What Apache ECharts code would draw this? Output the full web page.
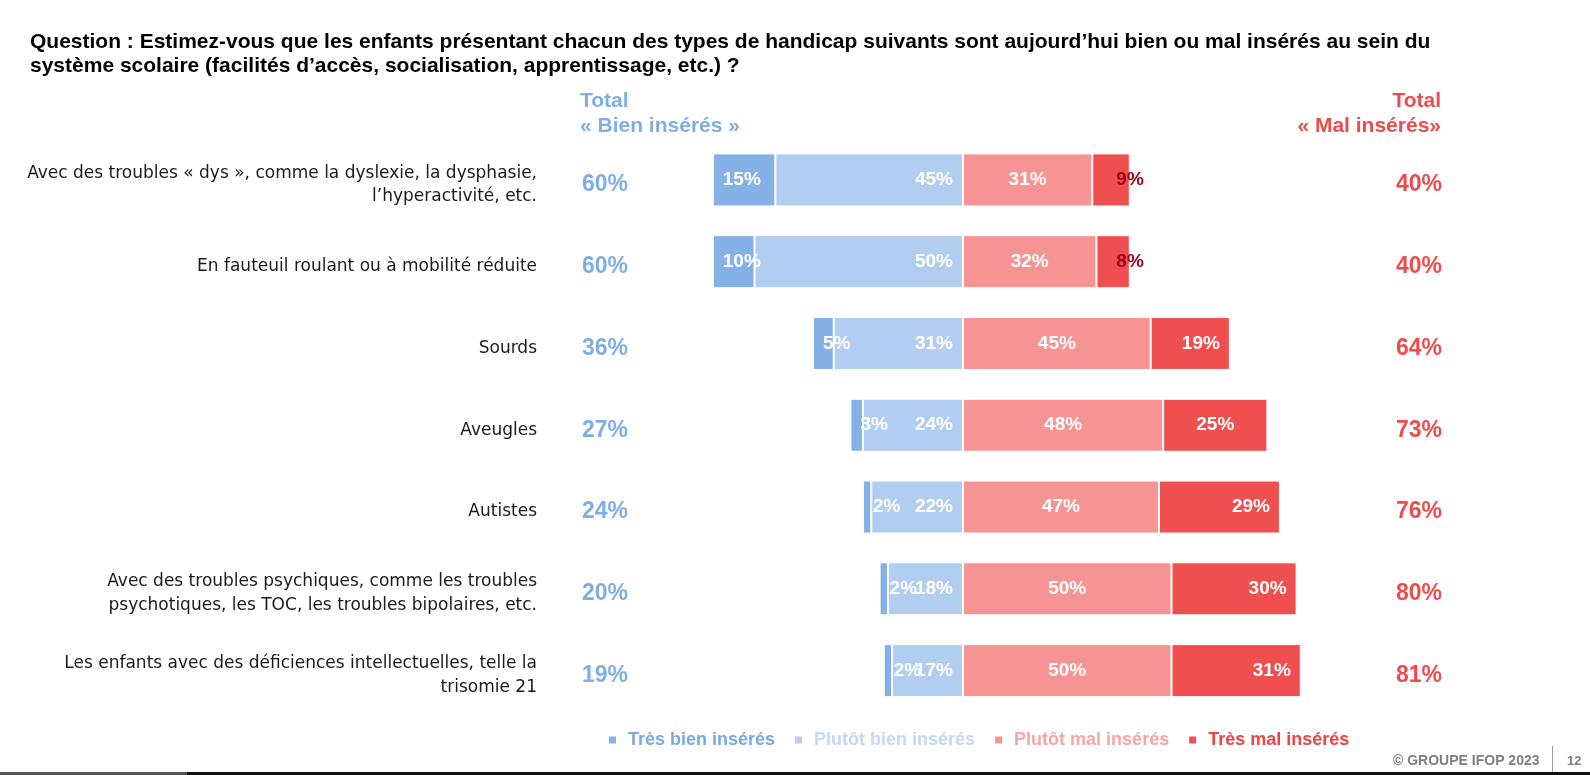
<!DOCTYPE html>
<html><head><meta charset="utf-8">
<script src="https://cdn.jsdelivr.net/npm/echarts@6/dist/echarts.min.js"></script>
<style>html,body{margin:0;padding:0;background:#fff}#c{width:1590px;height:775px}</style>
</head><body><div id="c"></div>
<script>
const categories = [
  "Avec des troubles « dys », comme la dyslexie, la dysphasie,\nl’hyperactivité, etc.",
  "En fauteuil roulant ou à mobilité réduite",
  "Sourds",
  "Aveugles",
  "Autistes",
  "Avec des troubles psychiques, comme les troubles\npsychotiques, les TOC, les troubles bipolaires, etc.",
  "Les enfants avec des déficiences intellectuelles, telle la\ntrisomie 21"
];
const tresBien   = [15, 10, 5, 3, 2, 2, 2];
const plutotBien = [45, 50, 31, 24, 22, 18, 17];
const plutotMal  = [31, 32, 45, 48, 47, 50, 50];
const tresMal    = [9, 8, 19, 25, 29, 30, 31];
const totalBien  = [60, 60, 36, 27, 24, 20, 19];
const totalMal   = [40, 40, 64, 73, 76, 80, 81];
const seriesNames = ["Très bien insérés", "Plutôt bien insérés", "Plutôt mal insérés", "Très mal insérés"];

const C_TB = '#84B1E7', C_PB = '#B1CDF0', C_PM = '#F69494', C_TM = '#F04F4F';
const LBL = {fontFamily:'Liberation Sans, Arial, sans-serif', fontWeight:'bold', fontSize:19, color:'#fff'};

const chart = echarts.init(document.getElementById('c'));
const pct = p => Math.abs(p.value) + '%';
// spacer line on top shifts the label block slightly downward, as in the reference
const withSpacer = txt => '{s| }\n' + String(txt).split('\n').map(l => '{a|' + l + '}').join('\n');
const spacer = {fontSize: 1, lineHeight: 10, height: 10};

const tmData = tresMal.map((v, i) => {
  if (i < 2) return {value: v, label: {color: '#A3001E', position: 'insideRight', offset: [24, 0]}};
  if (i === 3) return {value: v, label: {position: 'inside'}};
  return v;
});

const totalStyle = col => ({fontFamily: 'Liberation Sans, Arial, sans-serif', fontWeight: 'bold', fontSize: 23, lineHeight: 26, color: col});

chart.setOption({
  animation: false,
  grid: {left: 546, right: 210, top: 139, bottom: 63.5},
  xAxis: {type: 'value', min: -100, max: 100, show: false},
  yAxis: [
    {type: 'category', inverse: true, data: categories, axisLine: {show: false}, axisTick: {show: false},
     axisLabel: {margin: 9, align: 'right', formatter: v => withSpacer(v),
       rich: {s: spacer, a: {color: '#1a1a1a', fontFamily: 'DejaVu Sans, sans-serif', fontSize: 17, lineHeight: 23.5, align: 'right'}}}},
    {type: 'category', inverse: true, position: 'left', offset: -82, data: categories, axisLine: {show: false}, axisTick: {show: false},
     axisLabel: {margin: 0, align: 'right', formatter: (v, i) => withSpacer(totalBien[i] + '%'),
       rich: {s: spacer, a: totalStyle('#7FAEE6')}}},
    {type: 'category', inverse: true, position: 'right', offset: 0, data: categories, axisLine: {show: false}, axisTick: {show: false},
     axisLabel: {margin: 62, align: 'right', formatter: (v, i) => withSpacer(totalMal[i] + '%'),
       rich: {s: spacer, a: totalStyle('#F04B4B')}}}
  ],
  legend: {
    bottom: 21, left: 602, itemWidth: 9, itemHeight: 9, itemGap: 18, icon: 'rect',
    textStyle: {fontFamily: 'Liberation Sans, Arial, sans-serif', fontWeight: 'bold', fontSize: 18, padding: [0, 0, 0, 6]},
    data: [
      {name: seriesNames[0], textStyle: {color: '#7BA9E3'}},
      {name: seriesNames[1], textStyle: {color: '#C3D8F4'}},
      {name: seriesNames[2], textStyle: {color: '#F7A5A5'}},
      {name: seriesNames[3], textStyle: {color: '#EF4444'}}
    ]
  },
  series: [
    {name: seriesNames[1], type: 'bar', stack: 's', barWidth: 53, data: plutotBien.map(v => -v),
     itemStyle: {color: C_PB, borderColor: '#fff', borderWidth: 1},
     label: Object.assign({show: true, position: 'insideRight', distance: 10, formatter: pct}, LBL)},
    {name: seriesNames[0], type: 'bar', stack: 's', barWidth: 53, data: tresBien.map(v => -v),
     itemStyle: {color: C_TB, borderColor: '#fff', borderWidth: 1},
     label: Object.assign({show: true, position: 'insideLeft', distance: 10, formatter: pct}, LBL)},
    {name: seriesNames[2], type: 'bar', stack: 's', barWidth: 53, data: plutotMal,
     itemStyle: {color: C_PM, borderColor: '#fff', borderWidth: 1},
     label: Object.assign({show: true, position: 'inside', formatter: pct}, LBL)},
    {name: seriesNames[3], type: 'bar', stack: 's', barWidth: 53, data: tmData,
     itemStyle: {color: C_TM, borderColor: '#fff', borderWidth: 1},
     label: Object.assign({show: true, position: 'insideRight', distance: 10, formatter: pct}, LBL)}
  ],
  graphic: [
    {type: 'text', x: 30, y: 30, style: {
      text: "Question : Estimez-vous que les enfants présentant chacun des types de handicap suivants sont aujourd’hui bien ou mal insérés au sein du\nsystème scolaire (facilités d’accès, socialisation, apprentissage, etc.) ?",
      font: 'bold 21px "Liberation Sans", Arial, sans-serif', fill: '#000', lineHeight: 24, verticalAlign: 'top'}},
    {type: 'text', x: 580, y: 89, style: {text: 'Total\n« Bien insérés »', verticalAlign: 'top',
      font: 'bold 21px "Liberation Sans", Arial, sans-serif', fill: '#7FAEE6', lineHeight: 25}},
    {type: 'text', x: 1441, y: 89, style: {text: 'Total\n« Mal insérés»', align: 'right', verticalAlign: 'top',
      font: 'bold 21px "Liberation Sans", Arial, sans-serif', fill: '#F04B4B', lineHeight: 25}},
    {type: 'text', x: 1539.5, y: 761, style: {text: '© GROUPE IFOP 2023', align: 'right', verticalAlign: 'middle',
      font: 'bold 14px "Liberation Sans", Arial, sans-serif', fill: '#7f7f7f'}},
    {type: 'line', shape: {x1: 1552.5, y1: 746, x2: 1552.5, y2: 772}, style: {stroke: '#9a9a9a', lineWidth: 1}},
    {type: 'text', x: 1567, y: 761, style: {text: '12', verticalAlign: 'middle',
      font: 'bold 13px "Liberation Sans", Arial, sans-serif', fill: '#7f7f7f'}},
    {type: 'rect', shape: {x: 0, y: 772, width: 187, height: 3}, style: {fill: '#555'}},
    {type: 'rect', shape: {x: 187, y: 772, width: 1403, height: 3}, style: {fill: '#111'}}
  ]
});
</script></body></html>
